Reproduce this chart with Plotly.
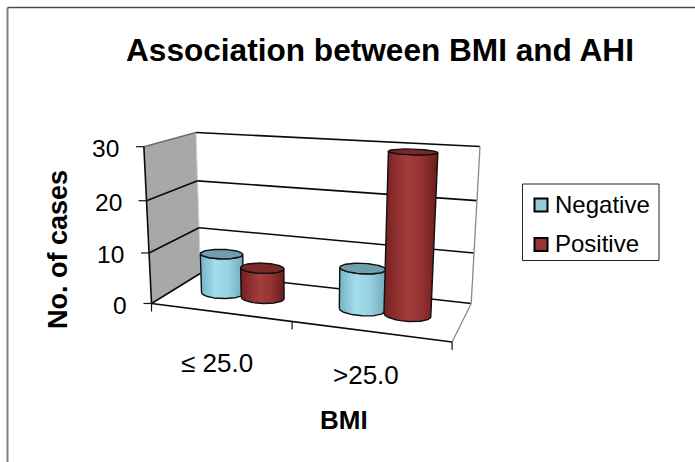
import numpy as np
import plotly.graph_objects as go

# ---- chart data -------------------------------------------------------------
categories = ["≤ 25.0", ">25.0"]
series_names = ["Negative", "Positive"]
negative = [8, 8]
positive = [6, 30]
y_ticks = [0, 10, 20, 30]

title_text = "Association between BMI and AHI"
x_title = "BMI"
y_title = "No. of cases"

# ---- page / styling ---------------------------------------------------------
W, H = 695, 462
Z_MAX = 30.0
FONT = "Liberation Sans"

SIDE_SCALES = {
    "Negative": [[0, "#74b2c4"], [0.35, "#a3ddec"], [0.65, "#98d3e3"], [1, "#6fa9ba"]],
    "Positive": [[0, "#762020"], [0.45, "#a53d3d"], [0.7, "#963333"], [1, "#6a1b1b"]],
}
TOP_COLORS = {"Negative": "#6f9fad", "Positive": "#7a2828"}
LEGEND_COLORS = {"Negative": "#93cddc", "Positive": "#953535"}

# Perspective frame of the 3-D plot area.
# world coords: (category position 0..2, depth 0=front..1=back, value 0..30)
FRAME_WORLD = [
    (0, 0, 0), (2, 0, 0), (1, 0, 0), (0, 1, 0), (2, 1, 0),
    (0, 0, 30), (0, 1, 30), (2, 1, 30),
    (0, 0, 10), (0, 0, 20), (0, 1, 10), (0, 1, 20), (2, 1, 10), (2, 1, 20),
]
FRAME_PIX = [
    (151.7, 303.3), (451.7, 341.7), (292.3, 322.7), (200.0, 273.0), (471.7, 303.0),
    (142.7, 146.7), (197.3, 132.7), (480.0, 146.0),
    (150.0, 253.0), (146.7, 200.0), (198.7, 227.5), (197.0, 181.5), (474.0, 253.3), (476.7, 201.0),
]

BAR_RX = 0.15      # cylinder radius along category axis
BAR_RY = 0.16      # cylinder radius along depth axis
BAR_DEPTH = 0.5    # depth position of the cylinder axis
BAR_OFFSETS = [-0.15, 0.15]

# legend box (page pixels)
LEG_X0, LEG_Y0, LEG_X1, LEG_Y1 = 522.5, 184, 659, 260.5
LEG_ROWS = [204, 243.5]


def fit_camera(world, pix):
    rows = []
    for (X, Y, Z), (u, v) in zip(world, pix):
        w = [X, Y, Z / Z_MAX, 1.0]
        un, vn = (u - 300) / 100.0, (v - 250) / 100.0
        rows.append(w + [0, 0, 0, 0] + [-un * c for c in w])
        rows.append([0, 0, 0, 0] + w + [-vn * c for c in w])
    _, _, vt = np.linalg.svd(np.array(rows, dtype=float))
    return vt[-1].reshape(3, 4)


CAM = fit_camera(FRAME_WORLD, FRAME_PIX)


def proj(X, Y, Z):
    X, Y, Z = np.broadcast_arrays(np.asarray(X, float), np.asarray(Y, float), np.asarray(Z, float))
    pts = np.stack([X, Y, Z / Z_MAX, np.ones_like(X)])
    r = CAM @ pts.reshape(4, -1)
    u = r[0] / r[2] * 100 + 300
    v = r[1] / r[2] * 100 + 250
    return u.reshape(X.shape), v.reshape(X.shape)


fig = go.Figure()


def add_poly(xs, ys, fill, line_color=None, width=0):
    fig.add_trace(go.Scatter(
        x=list(xs) + [xs[0]], y=list(ys) + [ys[0]], mode="lines" if width else "none",
        fill="toself", fillcolor=fill,
        line=dict(color=line_color or fill, width=width),
        hoverinfo="skip", showlegend=False))


def add_line(p0, p1, color, width):
    u, v = proj([p0[0], p1[0]], [p0[1], p1[1]], [p0[2], p1[2]])
    fig.add_trace(go.Scatter(x=u, y=v, mode="lines", line=dict(color=color, width=width),
                             hoverinfo="skip", showlegend=False))


# ---- walls and floor ---------------------------------------------------------
u, v = proj([0, 0, 0, 0], [0, 1, 1, 0], [0, 0, Z_MAX, Z_MAX])
add_poly(u, v, "#a8a8a8")                      # side wall
u, v = proj([0, 2, 2, 0], [1, 1, 1, 1], [0, 0, Z_MAX, Z_MAX])
add_poly(u, v, "#ffffff")                      # back wall
u, v = proj([0, 2, 2, 0], [0, 0, 1, 1], [0, 0, 0, 0])
add_poly(u, v, "#ffffff")                      # floor

GRID = "#0a0a0a"
add_line((0, 1, 0), (0, 1, Z_MAX), "#d0d0d0", 1)
for t in y_ticks:
    side_col = "#6e6e6e" if t == Z_MAX else GRID
    add_line((0, 0, t), (0, 1, t), side_col, 1.6)
    add_line((0, 1, t), (2, 1, t), GRID, 1.6)
add_line((2, 1, 0), (2, 1, Z_MAX), "#8a8a8a", 1.3)
add_line((2, 0, 0), (2, 1, 0), "#8a8a8a", 1.3)
add_line((0, 0, 0), (0, 0, Z_MAX), "#0a0a0a", 1.6)   # value axis
add_line((0, 0, 0), (2, 0, 0), "#0a0a0a", 1.6)        # category axis

# tick marks
TICK = 8
for t in y_ticks:
    tu, tv = proj(0, 0, t)
    fig.add_trace(go.Scatter(x=[tu - TICK, tu], y=[tv, tv], mode="lines",
                             line=dict(color="#141414", width=1.2), hoverinfo="skip", showlegend=False))
for c in range(len(categories) + 1):
    tu, tv = proj(c, 0, 0)
    fig.add_trace(go.Scatter(x=[tu, tu], y=[tv, tv + TICK], mode="lines",
                             line=dict(color="#141414", width=1.2), hoverinfo="skip", showlegend=False))


# ---- cylinders ---------------------------------------------------------------
def lower_arc(px, py):
    iL, iR = int(np.argmin(px)), int(np.argmax(px))
    t = (px - px[iL]) / (px[iR] - px[iL])
    cy = py[iL] + t * (py[iR] - py[iL])
    idx = np.where(py >= cy - 1e-9)[0]
    order = np.argsort(px[idx])
    return px[idx][order], py[idx][order]


def add_cylinder(xc, value, name):
    th = np.linspace(0, 2 * np.pi, 181)[:-1]
    X = xc + BAR_RX * np.cos(th)
    Y = BAR_DEPTH + BAR_RY * np.sin(th)
    bu, bv = proj(X, Y, np.zeros_like(th))
    tu, tv = proj(X, Y, np.full_like(th, value))
    lbu, lbv = lower_arc(bu, bv)
    ltu, ltv = lower_arc(tu, tv)
    su = np.concatenate([lbu, ltu[::-1], lbu[:1]])
    sv = np.concatenate([lbv, ltv[::-1], lbv[:1]])
    fig.add_trace(go.Scatter(
        x=su, y=sv, mode="lines", fill="toself",
        fillgradient=dict(type="horizontal", colorscale=SIDE_SCALES[name]),
        line=dict(color="#101010", width=1.4), hoverinfo="skip", showlegend=False))
    fig.add_trace(go.Scatter(
        x=np.append(tu, tu[0]), y=np.append(tv, tv[0]), mode="lines", fill="toself",
        fillcolor=TOP_COLORS[name], line=dict(color="#101010", width=1.4),
        hoverinfo="skip", showlegend=False))


for ci in range(len(categories)):
    for si, (name, vals) in enumerate(zip(series_names, [negative, positive])):
        add_cylinder(ci + 0.5 + BAR_OFFSETS[si], vals[ci], name)

# ---- legend (boxed key) ------------------------------------------------------
shapes = [dict(type="rect", xref="x", yref="y", x0=LEG_X0, y0=LEG_Y0, x1=LEG_X1, y1=LEG_Y1,
               line=dict(color="#222", width=1), fillcolor="white", layer="below")]
ann = []
for name, ry in zip(series_names, LEG_ROWS):
    fig.add_trace(go.Scatter(
        x=[LEG_X0 + 18.5], y=[ry + 1], mode="markers", showlegend=False, hoverinfo="skip",
        marker=dict(symbol="square", size=13, color=LEGEND_COLORS[name],
                    line=dict(color="#000000", width=2))))
    ann.append(dict(x=LEG_X0 + 30, y=ry, text=name, xanchor="left", yanchor="middle",
                    font=dict(size=24, color="#000")))

# ---- text --------------------------------------------------------------------
for t in y_ticks:
    tu, tv = proj(0, 0, t)
    ann.append(dict(x=tu - TICK - 15, y=tv + 2, text=str(t), xanchor="right", yanchor="middle",
                    font=dict(size=24.5, color="#000")))
for ci, lab in enumerate(categories):
    cu, cv = proj(ci + 0.5, 0, 0)
    ann.append(dict(x=cu - 3, y=cv + 50.5 - 7 * ci, text=lab, xanchor="center", yanchor="middle",
                    font=dict(size=26, color="#000")))
ann.append(dict(x=379.5, y=50, text="<b>%s</b>" % title_text, xanchor="center", yanchor="middle",
                font=dict(size=31.6, color="#000")))
ann.append(dict(x=344, y=420, text="<b>%s</b>" % x_title, xanchor="center", yanchor="middle",
                font=dict(size=26, color="#000")))
ann.append(dict(x=58, y=250, text="<b>%s</b>" % y_title, textangle=-90, xanchor="center",
                yanchor="middle", font=dict(size=27, color="#000")))
for a in ann:
    a.update(xref="x", yref="y", showarrow=False)
    a["font"]["family"] = FONT

# outer chart border
shapes += [
    dict(type="line", xref="x", yref="y", x0=7.5, y0=7.5, x1=W + 5, y1=7.5,
         line=dict(color="#4a4a4a", width=1.5)),
    dict(type="line", xref="x", yref="y", x0=7.5, y0=7.5, x1=7.5, y1=H + 5,
         line=dict(color="#808080", width=2)),
]

fig.update_layout(
    width=W, height=H, margin=dict(l=0, r=0, t=0, b=0),
    paper_bgcolor="white", plot_bgcolor="white",
    xaxis=dict(range=[0, W], visible=False, fixedrange=True),
    yaxis=dict(range=[H, 0], visible=False, fixedrange=True),
    annotations=ann, shapes=shapes, hovermode=False, showlegend=False,
)

fig.write_html("out.html")
